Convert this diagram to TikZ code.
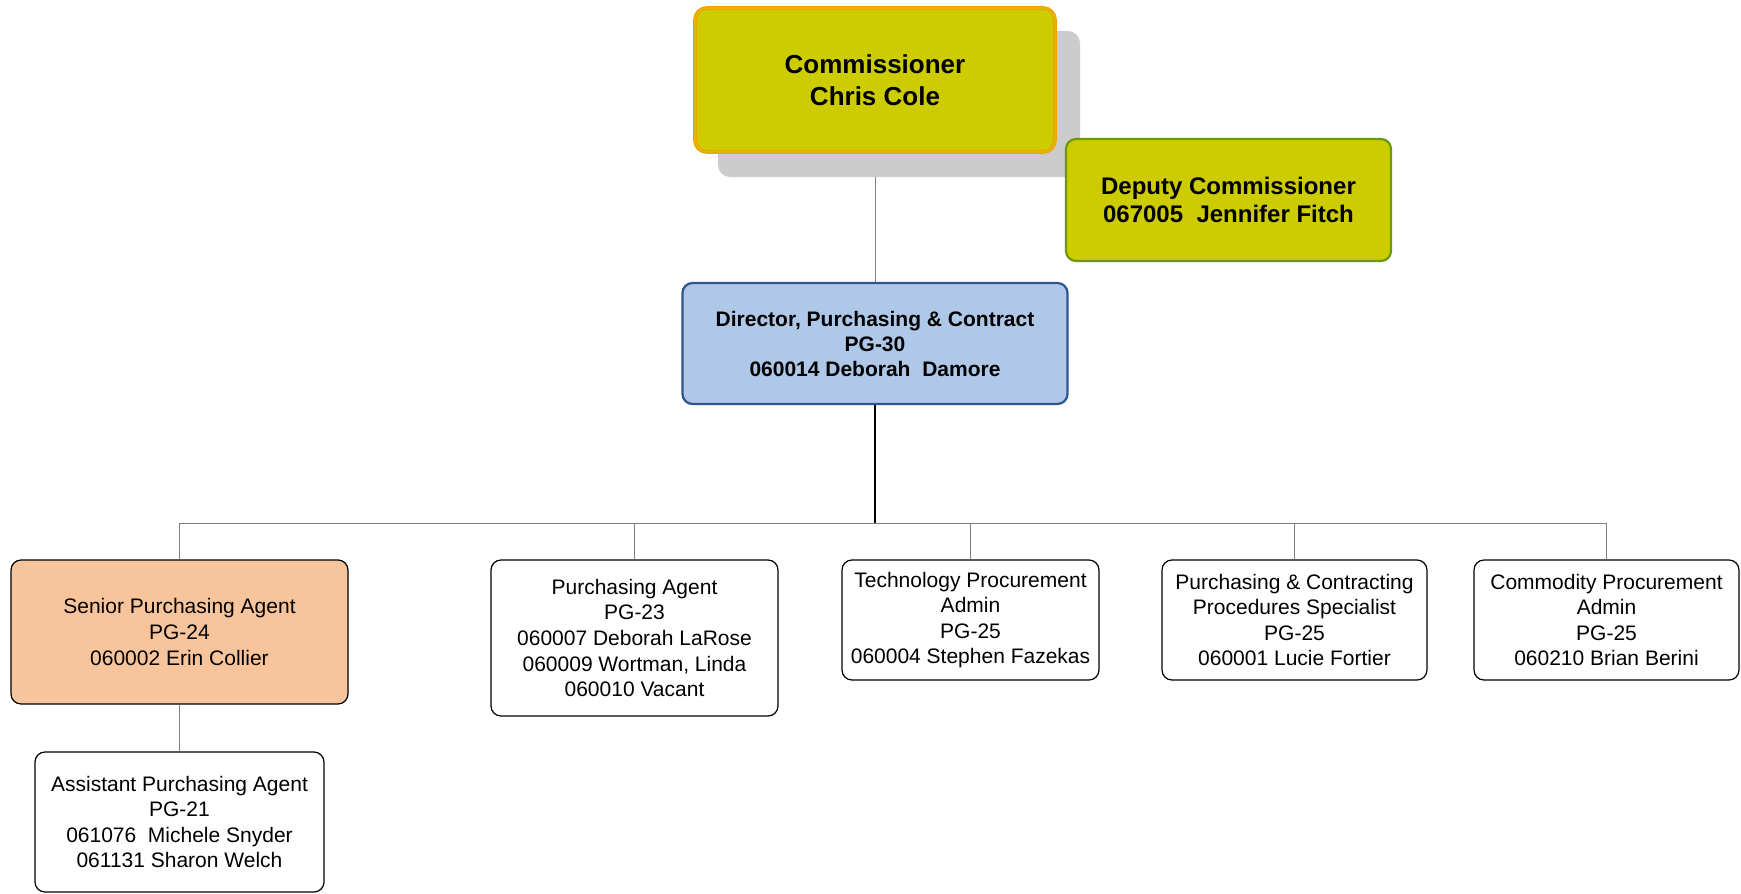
\documentclass[tikz,border=0pt]{standalone}
\usepackage{fontspec}
\setmainfont{Liberation Sans}
\usepackage{xcolor}
\definecolor{commfill}{HTML}{CCCC00}
\definecolor{commline}{HTML}{F5A000}
\definecolor{depline}{HTML}{6B9A10}
\definecolor{dirfill}{HTML}{B0C8E8}
\definecolor{dirline}{HTML}{2E5590}
\definecolor{senfill}{HTML}{F8C49B}
\definecolor{connline}{HTML}{808080}

\begin{document}
\begin{tikzpicture}[x=0.5pt, y=-0.5pt,
    box/.style={draw, rounded corners=5pt, align=center, inner sep=0pt,
        line width=0.6pt, font=\fontsize{10.5}{12.8}\selectfont},
    topbox/.style={box, fill=commfill, font=\bfseries\fontsize{12}{14.4}\selectfont},
    conn/.style={draw=connline, line width=0.5pt}]
                \useasboundingbox (0,0) rectangle (1741,894);
                % connector behind the shadow
                \coordinate (bus) at (0,523);
                \coordinate (commfoot) at (875,177);
                % top boxes
                \fill[black!20, rounded corners=6pt] (718,31) rectangle (1080,177);
                \node[topbox, draw=commline, line width=0.5pt, double=commline!45!commfill, double distance=0.9pt,
                    rounded corners=6pt, minimum width=180pt, minimum height=72pt,
                    font=\bfseries\fontsize{13}{16}\selectfont]
                    (comm) at (875,80) {Commissioner\\Chris Cole};
                \node[topbox, draw=depline, line width=1.1pt, minimum width=162.5pt, minimum height=61pt]
                    (dep) at (1228.5,200) {Deputy Commissioner\\067005\ \ Jennifer Fitch};
                \node[box, fill=dirfill, draw=dirline, line width=1.1pt, minimum width=192.5pt, minimum height=60.5pt,
                    font=\bfseries\fontsize{10.5}{12.5}\selectfont]
                    (dir) at (875,343.5) {Director, Purchasing \& Contract\\PG-30\\060014 Deborah\ \ Damore};
                % staff row
                \node[box, fill=senfill, minimum width=168.5pt, minimum height=72pt] (sen) at (179.5,632)
                    {Senior Purchasing Agent\\PG-24\\060002 Erin Collier};
                \node[box, minimum width=143.5pt, minimum height=78pt] (pa) at (634.5,638)
                    {Purchasing Agent\\PG-23\\060007 Deborah LaRose\\060009 Wortman, Linda\\060010 Vacant};
                \node[box, minimum width=128.5pt, minimum height=60pt] (tech) at (970.5,620)
                    {Technology Procurement\\Admin\\PG-25\\060004 Stephen Fazekas};
                \node[box, minimum width=132.5pt, minimum height=60pt] (pcs) at (1294.5,620)
                    {Purchasing \& Contracting\\Procedures Specialist\\PG-25\\060001 Lucie Fortier};
                \node[box, minimum width=132.5pt, minimum height=60pt] (cmd) at (1606.5,620)
                    {Commodity Procurement\\Admin\\PG-25\\060210 Brian Berini};
                \node[box, minimum width=144.5pt, minimum height=70pt] (ast) at (179.5,822)
                    {Assistant Purchasing Agent\\PG-21\\061076\ \ Michele Snyder\\061131 Sharon Welch};
                % connectors
                \draw[conn] (commfoot) -- (dir.north);
                \draw[line width=1pt] (dir.south) -- (dir.south |- bus);
                \draw[conn] (sen.north |- bus) -- (cmd.north |- bus);
                \foreach \n in {sen, pa, tech, pcs, cmd} {
                    \draw[conn] (\n.north) -- (\n.north |- bus);
                }
                \draw[conn] (sen.south) -- (ast.north);
            \end{tikzpicture}
\end{document}
